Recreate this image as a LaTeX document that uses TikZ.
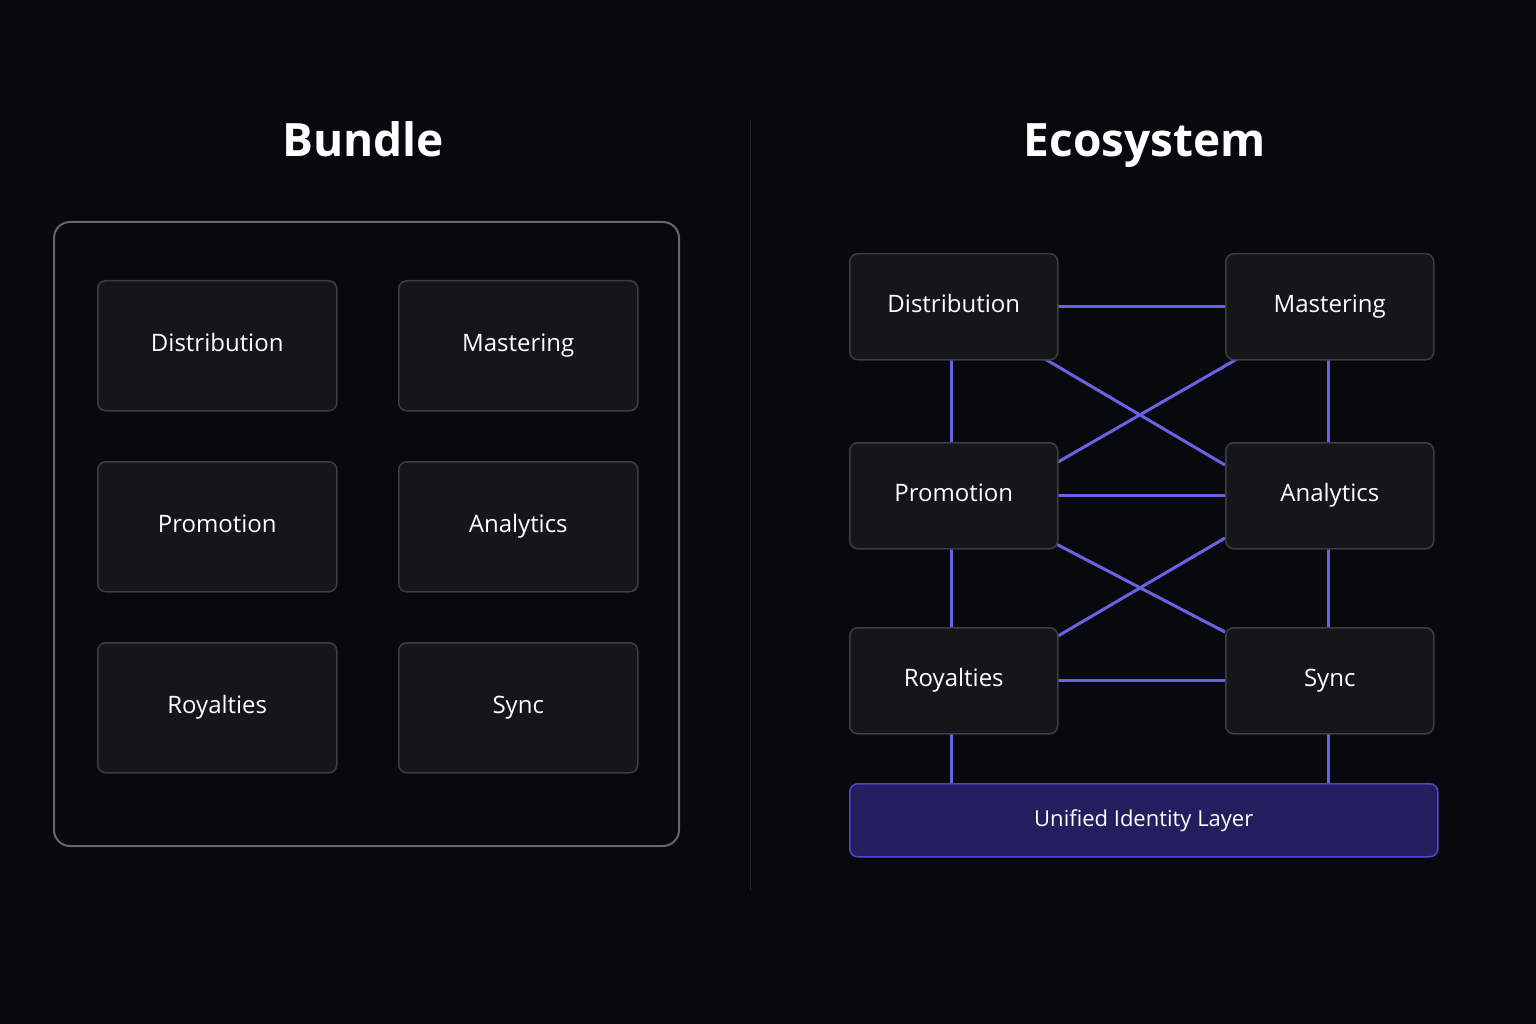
\documentclass[tikz,border=0pt]{standalone}
\usepackage{fontspec}
\setmainfont{Open Sans}
\definecolor{bg}{HTML}{08090D}
\definecolor{boxf}{HTML}{15161A}
\definecolor{boxd}{HTML}{3C3D42}
\definecolor{outer}{HTML}{66676B}
\definecolor{link}{HTML}{6A62E4}
\definecolor{uf}{HTML}{231F5E}
\definecolor{ud}{HTML}{4F46D6}
\tikzset{
 x=1pt,y=-1pt,
 bbox/.style={draw=boxd,line width=1.5pt,fill=boxf,rounded corners=8pt,text=white,font=\fontsize{24}{30}\selectfont,anchor=north west,inner sep=0pt,text height=17pt,text depth=5pt},
 lnk/.style={draw=link,line width=3pt},
 ttl/.style={text=white,font=\fontsize{46}{56}\selectfont\bfseries,anchor=base}
}
\begin{document}
\begin{tikzpicture}
\fill[bg] (0,0) rectangle (1536,1024);
\useasboundingbox (0,0) rectangle (1536,1024);
\draw[color=white!12!bg,line width=1pt] (750,120) -- (750,890);
\node[ttl] (tb) at (363,157) {Bundle};
\node[ttl] (te) at (1145,157) {Ecosystem};
\draw[outer,line width=2pt,rounded corners=16pt] (54,222) rectangle (679,846);
\foreach \n/\t/\x/\y in {b1/Distribution/97/280,b2/Mastering/398/280,b3/Promotion/97/461,b4/Analytics/398/461,b5/Royalties/97/642,b6/Sync/398/642}
  \node[bbox,minimum width=239pt,minimum height=130pt] (\n) at (\x,\y) {\t};
% ecosystem coordinates (links drawn first, nodes on top)
\coordinate (dpos) at (849,253); \coordinate (mpos) at (1225,253);
\coordinate (ppos) at (849,442); \coordinate (apos) at (1225,442);
\coordinate (rpos) at (849,627); \coordinate (spos) at (1225,627);
\path (953,306) coordinate (dc) (1329,306) coordinate (mc) (953,495) coordinate (pc)
      (1329,495) coordinate (ac) (953,680) coordinate (rc) (1329,680) coordinate (sc);
\draw[lnk] (dc) -- (mc); \draw[lnk] (pc) -- (ac); \draw[lnk] (rc) -- (sc);
\draw[lnk] (951,306) -- (951,680); \draw[lnk] (1328,306) -- (1328,680);
\draw[lnk] (951,680) -- (951,800); \draw[lnk] (1328,680) -- (1328,800);
\draw[lnk] (1045,359) -- (1225,465);
\draw[lnk] (1237,359) -- (1058,462);
\draw[lnk] (1035,533) -- (1225,632);
\draw[lnk] (1225,538) -- (1058,636);
\foreach \n/\t in {d/Distribution,m/Mastering,p/Promotion,a/Analytics,r/Royalties,s/Sync}
  \node[bbox,minimum width=208pt,minimum height=106pt] (\n) at (\n pos) {\t};
\node[bbox,draw=ud,fill=uf,minimum width=588pt,minimum height=73pt,font=\fontsize{22}{28}\selectfont] (u) at (849,783) {Unified Identity Layer};
\end{tikzpicture}
\end{document}
